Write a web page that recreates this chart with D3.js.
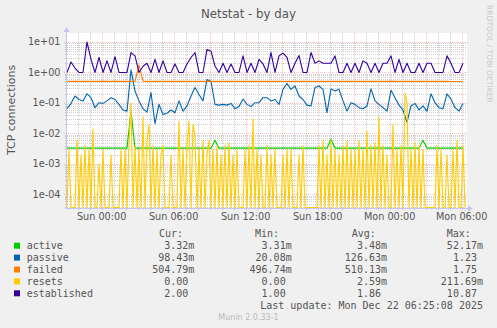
<!DOCTYPE html>
<html><head><meta charset="utf-8">
<script src="https://cdn.jsdelivr.net/npm/d3@7"></script>
<style>
html,body{margin:0;padding:0;background:#f0f0f0;}
svg{display:block;}
</style></head><body>
<svg id="c" width="497" height="328"></svg>
<script>
// ---------- data ----------
const seriesNames = ["active", "passive", "failed", "resets", "established"];
const seriesColors = ["#00CC00", "#0066B3", "#FF8000", "#FFCC00", "#330099"];
const endTime = Date.UTC(2025, 11, 22, 6, 26, 40);
const startTime = endTime - 400 * 300 * 1000;
const stepMs = 1200 * 1000;        // main series sample spacing
const resetsStepMs = 600 * 1000;   // resets sample spacing

const established = [
 1,2.2,1.4,1,1,10,2.7,1,3.1,1,2.4,1,3.3,1,1,1,4.5,3.5,1,1.6,2,1,2.7,1,2.4,
 1,1,1.9,1,1,1.9,3.1,4.5,1,1,5.7,5,1.6,1,2,1,1.9,1,1,3.5,1,2,1,2.7,1.9,
 1,4.5,1,3.5,4.3,3.1,1,2,3.6,1,1,4.5,2,2.4,2,2,2,3.5,1,1,2,1,2,1,2.4,
 2,1,2,1,2,2,3.5,1,2.7,1,2,1,1,2,1,2,2,1,1,1,3.5,2,1,1,2
];
const passive = [
 0.065,0.097,0.169,0.13,0.117,0.2,0.149,0.07,0.102,0.097,0.117,0.149,0.13,0.09,0.059,0.054,1.23,0.246,0.117,0.065,0.05,0.218,0.021,0.09,0.042,
 0.046,0.059,0.048,0.117,0.054,0.08,0.169,0.32,0.19,0.117,0.59,0.52,0.09,0.085,0.09,0.085,0.097,0.065,0.076,0.135,0.09,0.076,0.102,0.102,0.149,
 0.149,0.117,0.13,0.09,0.28,0.436,0.28,0.36,0.169,0.13,0.085,0.08,0.32,0.36,0.28,0.048,0.29,0.246,0.28,0.117,0.054,0.102,0.09,0.07,0.065,
 0.08,0.29,0.117,0.09,0.07,0.054,0.26,0.149,0.085,0.059,0.023,0.08,0.097,0.059,0.08,0.054,0.2,0.102,0.07,0.065,0.2,0.135,0.07,0.054,0.098
];
const failed = [
 0.51,0.51,0.51,0.51,0.51,0.51,0.51,0.51,0.51,0.52,0.51,0.51,0.52,0.51,0.51,0.51,0.51,0.51,1.75,0.52,0.51,0.51,0.51,0.51,0.51,
 0.51,0.51,0.51,0.51,0.51,0.51,0.51,0.51,0.51,0.51,0.51,0.51,0.51,0.51,0.51,0.51,0.51,0.51,0.51,0.51,0.51,0.51,0.51,0.51,0.51,
 0.51,0.51,0.51,0.51,0.51,0.51,0.51,0.51,0.51,0.51,0.51,0.51,0.51,0.51,0.51,0.51,0.51,0.51,0.51,0.51,0.51,0.51,0.51,0.51,0.51,
 0.51,0.51,0.51,0.51,0.51,0.51,0.52,0.51,0.51,0.51,0.51,0.51,0.51,0.51,0.51,0.51,0.51,0.51,0.51,0.51,0.51,0.505,0.505,0.505,0.505
];
const active = [
 0.0033,0.0033,0.0033,0.0033,0.0033,0.0033,0.0033,0.0033,0.0033,0.0033,0.0033,0.0033,0.0033,0.0033,0.0033,0.0033,0.052,0.0033,0.0033,0.0033,0.0033,0.0033,0.0033,0.0033,0.0033,
 0.0033,0.0033,0.0033,0.0033,0.0033,0.0033,0.0033,0.0033,0.0033,0.0033,0.0033,0.0033,0.006,0.0033,0.0033,0.0033,0.0033,0.0033,0.0033,0.0033,0.0033,0.0033,0.0033,0.0033,0.0033,
 0.0033,0.0033,0.0033,0.0033,0.0033,0.0033,0.0033,0.0033,0.0033,0.0033,0.0033,0.0033,0.0033,0.0033,0.0033,0.0033,0.0065,0.0033,0.0033,0.0033,0.0033,0.0033,0.0033,0.0033,0.0033,
 0.0033,0.0033,0.0033,0.0033,0.0033,0.0033,0.0033,0.0033,0.0033,0.0033,0.0033,0.0033,0.0033,0.0033,0.006,0.0033,0.0033,0.0033,0.0033,0.0033,0.0033,0.0033,0.0033,0.0033,0.0033
];
const resets = [
 0,0.003,0,0,0,0.006,0,0.002,0,0.004,0,0.003,0,0.014,0,0,0.001,0,0.003,0,
 0,0,0.002,0,0,0,0,0.003,0,0.003,0,0.005,0.1,0,0.004,0,0.003,0,0.035,0,
 0.006,0.02,0,0.004,0,0.003,0,0.002,0.004,0,0,0,0.002,0,0,0,0.025,0,0.003,0,
 0.004,0.025,0,0.02,0.008,0,0.003,0,0.006,0,0.002,0.006,0,0.003,0,0.004,0,0.002,0,0.004,
 0,0.005,0,0.002,0,0.003,0,0,0,0.003,0,0.004,0,0.03,0,0.003,0,0.002,0,0,
 0.004,0,0.002,0,0.003,0,0,0,0.002,0,0.003,0,0.003,0,0,0,0.002,0,0.004,0,
 0,0,0,0,0,0,0.004,0,0.006,0,0.002,0,0.006,0,0.003,0,0.002,0,0.004,0,
 0.006,0,0.003,0,0.003,0,0.006,0,0.003,0,0.012,0,0.004,0,0.005,0,0.035,0,0.004,0,
 0.002,0,0,0.02,0,0.003,0,0.004,0,0.21,0.1,0,0.003,0,0.005,0,0.004,0,0.003,0,
 0,0,0,0,0,0.004,0,0.003,0,0,0.002,0,0,0.003,0,0.006,0,0,0.004,0
];
const yTickLabels = ["1e-04", "1e-03", "1e-02", "1e-01", "1e+00", "1e+01"];
const curVals = ["3.32m", "98.43m", "504.79m", "0.00", "2.00"];
const minVals = ["3.31m", "20.08m", "496.74m", "0.00", "1.00"];
const avgVals = ["3.48m", "126.63m", "510.13m", "2.59m", "1.86"];
const maxVals = ["52.17m", "1.23", "1.75", "211.69m", "10.87"];
const colHeaders = ["Cur:", "Min:", "Avg:", "Max:"];
const titleText = "Netstat - by day";
const unitText = "TCP connections";
const lastUpdate = "Last update: Mon Dec 22 06:25:08 2025";
const footer = "Munin 2.0.33-1";
const sideText = "RRDTOOL / TOBI OETIKER";

// ---------- layout ----------
const P = {left: 67, right: 467, top: 33, bottom: 208};
const svg = d3.select("#c");
const SANS = "'DejaVu Sans', sans-serif";
const MONO = "'DejaVu Sans Mono', monospace";
const TXT = "#555";

svg.append("rect").attr("width", 497).attr("height", 328).attr("fill", "#f0f0f0");

const x = d3.scaleUtc().domain([new Date(startTime), new Date(endTime)]).range([P.left, P.right]);
const y = d3.scaleLog().domain([3.6e-5, 19.7]).range([P.bottom, P.top]).clamp(true);

svg.append("rect").attr("x", P.left).attr("y", P.top).attr("width", P.right - P.left)
  .attr("height", P.bottom - P.top).attr("fill", "#ffffff");

// grid
const minorColor = "rgba(128,128,128,0.38)";
const majorColor = "rgba(240,60,60,0.33)";
const g = svg.append("g");
const minorY = [];
for (let e = -5; e <= 1; e++) for (let m = 2; m <= 9; m++) {
  const v = m * Math.pow(10, e);
  if (v >= y.domain()[0] && v <= y.domain()[1]) minorY.push(v);
}
const majorY = yTickLabels.map(s => +s);
const yy = v => Math.round(y(v)) + 0.5;
g.selectAll(".hmin").data(minorY).join("line")
  .attr("x1", P.left - 2).attr("x2", P.right).attr("y1", yy).attr("y2", yy)
  .attr("stroke", minorColor).attr("stroke-dasharray", "1,1");
const t0 = new Date(startTime), t1 = new Date(endTime);
const hours = d3.utcHour.every(1).range(t0, t1);
const major3 = d3.utcHour.every(3).range(t0, t1);
const label6 = d3.utcHour.every(6).range(t0, t1);
const xx = d => Math.round(x(d)) + 0.5;
g.selectAll(".vmin").data(hours.filter(d => d.getUTCHours() % 3 !== 0)).join("line")
  .attr("x1", xx).attr("x2", xx).attr("y1", P.top).attr("y2", P.bottom + 2)
  .attr("stroke", minorColor).attr("stroke-dasharray", "1,1");
g.selectAll(".hmaj").data(majorY).join("line")
  .attr("x1", P.left - 3).attr("x2", P.right).attr("y1", yy).attr("y2", yy)
  .attr("stroke", majorColor).attr("stroke-dasharray", "1,1");
g.selectAll(".vmaj").data(major3).join("line")
  .attr("x1", xx).attr("x2", xx).attr("y1", P.top).attr("y2", P.bottom + 3)
  .attr("stroke", majorColor).attr("stroke-dasharray", "1,1");

// axis labels
svg.append("g").selectAll("text").data(majorY).join("text")
  .attr("x", 60.5).attr("y", v => y(v) + 3.5).attr("text-anchor", "end")
  .attr("font-family", SANS).attr("font-size", 9.7).attr("fill", TXT)
  .text((v, i) => yTickLabels[i]);
const fmt = d3.utcFormat("%a %H:%M");
svg.append("g").selectAll("text").data(label6).join("text")
  .attr("x", d => x(d)).attr("y", 220).attr("text-anchor", "middle")
  .attr("font-family", SANS).attr("font-size", 9.7).attr("fill", TXT)
  .text(fmt);

// lines
svg.append("clipPath").attr("id", "pc").append("rect")
  .attr("x", P.left).attr("y", P.top).attr("width", P.right - P.left).attr("height", P.bottom - P.top);
const lineGen = d3.line().x(d => x(d.t)).y(d => d.v > 0 ? y(d.v) : P.bottom - 0.5);
const mk = (arr, step) => arr.map((v, i) => ({t: new Date(startTime + i * step), v}));
const seriesData = [mk(active, stepMs), mk(passive, stepMs), mk(failed, stepMs), mk(resets, resetsStepMs), mk(established, stepMs)];
const lg = svg.append("g").attr("clip-path", "url(#pc)");
seriesData.forEach((d, i) => {
  lg.append("path").datum(d).attr("d", lineGen).attr("fill", "none")
    .attr("stroke", seriesColors[i]).attr("stroke-width", 1.1).attr("stroke-linejoin", "round");
});

// axes
const axisColor = "#c4c4f4";
svg.append("line").attr("x1", P.left - 0.5).attr("x2", P.left - 0.5).attr("y1", P.top - 2).attr("y2", P.bottom + 1)
  .attr("stroke", axisColor);
svg.append("line").attr("x1", P.left - 2).attr("x2", P.right + 2).attr("y1", P.bottom + 0.5).attr("y2", P.bottom + 0.5)
  .attr("stroke", axisColor);
svg.append("path").attr("d", `M${P.left - 3.5},${P.top - 1} L${P.left - 0.5},${P.top - 6} L${P.left + 2.5},${P.top - 1} Z`).attr("fill", axisColor);
svg.append("path").attr("d", `M${P.right + 1},${P.bottom - 2.5} L${P.right + 6},${P.bottom + 0.5} L${P.right + 1},${P.bottom + 3.5} Z`).attr("fill", axisColor);

// title, unit, side text
svg.append("text").attr("x", 248.5).attr("y", 17.5).attr("text-anchor", "middle")
  .attr("font-family", SANS).attr("font-size", 11.8).attr("fill", TXT).text(titleText);
svg.append("text").attr("transform", "translate(15,110) rotate(-90)").attr("text-anchor", "middle")
  .attr("font-family", SANS).attr("font-size", 11).attr("fill", TXT).text(unitText);
svg.append("text").attr("transform", "translate(487,5) rotate(90)").attr("text-anchor", "start")
  .attr("font-family", SANS).attr("font-size", 7.6).attr("fill", "#c8c8c8").text(sideText);

// legend
const CW = 6.02;
const colEnds = [194.3, 291.7, 387, 483];
const headStarts = [159, 255, 351.7, 446.7];
const leg = svg.append("g").attr("font-family", MONO).attr("font-size", 10).attr("fill", TXT);
colHeaders.forEach((h, i) => leg.append("text").attr("x", headStarts[i]).attr("y", 237).text(h));
const cols = [curVals, minVals, avgVals, maxVals];
seriesNames.forEach((name, r) => {
  const by = 249.4 + r * 11.9;
  leg.append("rect").attr("x", 14).attr("y", by - 6.7).attr("width", 6).attr("height", 6).attr("fill", seriesColors[r]);
  leg.append("text").attr("x", 26.7).attr("y", by).text(name);
  cols.forEach((col, c) => {
    const s = col[r];
    const hasM = s.endsWith("m");
    const num = hasM ? s.slice(0, -1) : s;
    leg.append("text").attr("x", colEnds[c] - CW).attr("y", by).attr("text-anchor", "end").text(num);
    if (hasM) leg.append("text").attr("x", colEnds[c] - CW).attr("y", by).text("m");
  });
});
leg.append("text").attr("x", 483).attr("y", 309.4).attr("text-anchor", "end").text(lastUpdate);
svg.append("text").attr("x", 248.5).attr("y", 320).attr("text-anchor", "middle")
  .attr("font-family", SANS).attr("font-size", 8).attr("fill", "#bbbbbb").text(footer);
</script>
</body></html>
